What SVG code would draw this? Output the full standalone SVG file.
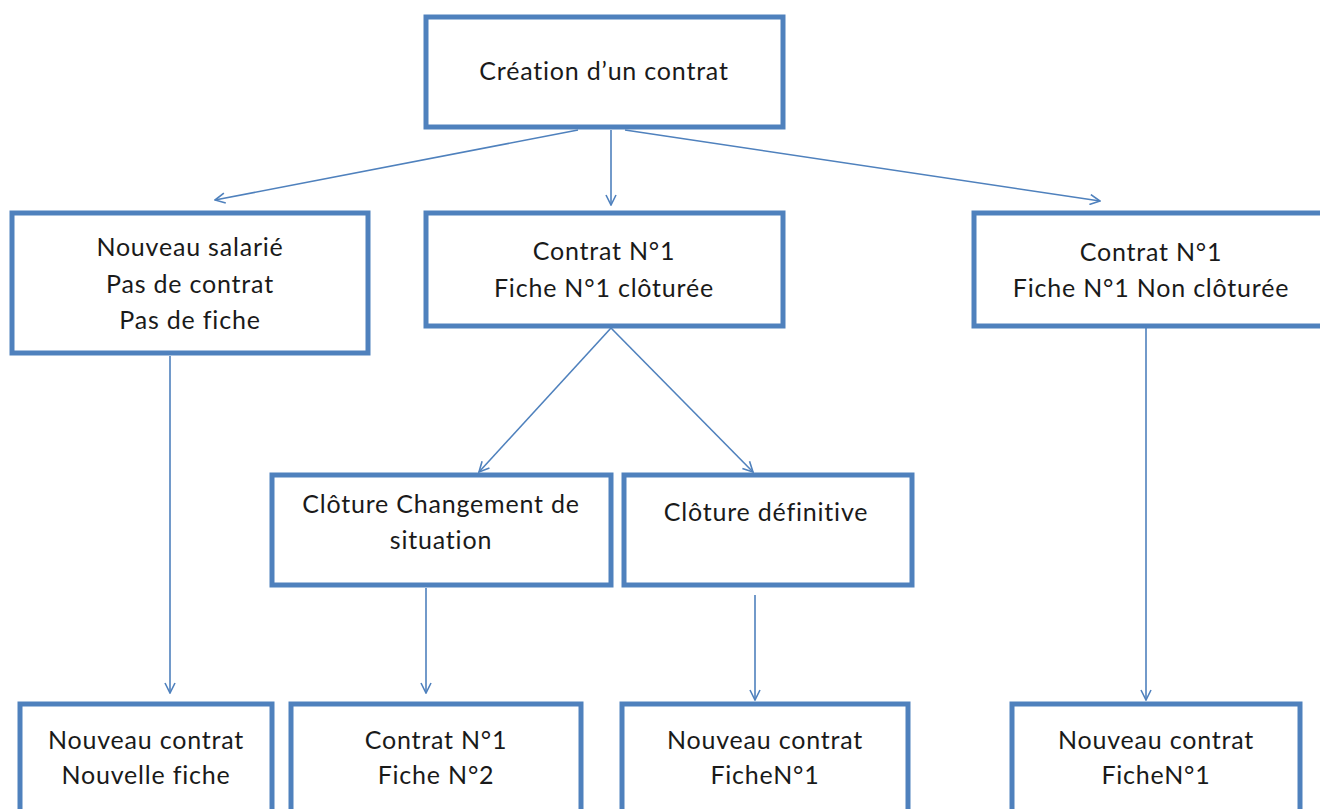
<svg xmlns="http://www.w3.org/2000/svg" width="1320" height="809" viewBox="0 0 1320 809">
<style>
.box{fill:#fff;stroke:#4f81bd;stroke-width:5}
.t{font-family:Lato,"Liberation Sans",sans-serif;font-size:25px;letter-spacing:0.8px;fill:#1a1a1a;text-anchor:middle}
.c{stroke:#4f81bd;stroke-width:1.6;fill:none}
</style>
<defs>
<marker id="ah" viewBox="0 0 12 12" refX="11" refY="6" markerWidth="12" markerHeight="12" markerUnits="userSpaceOnUse" orient="auto">
<path d="M1,1 L11,6 L1,11" fill="none" stroke="#4f81bd" stroke-width="1.6"/>
</marker>
</defs>
<rect width="1320" height="809" fill="#fff"/>
<g id="connectors">
<line class="c" x1="578" y1="130" x2="215" y2="200" marker-end="url(#ah)"/>
<line class="c" x1="611" y1="130" x2="611" y2="205" marker-end="url(#ah)"/>
<line class="c" x1="625" y1="130" x2="1100" y2="201" marker-end="url(#ah)"/>
<line class="c" x1="170" y1="356" x2="170" y2="693" marker-end="url(#ah)"/>
<line class="c" x1="611" y1="328" x2="479" y2="472" marker-end="url(#ah)"/>
<line class="c" x1="611" y1="328" x2="753" y2="472" marker-end="url(#ah)"/>
<line class="c" x1="426" y1="588" x2="426" y2="693" marker-end="url(#ah)"/>
<line class="c" x1="755" y1="595" x2="755" y2="700" marker-end="url(#ah)"/>
<line class="c" x1="1146" y1="328" x2="1146" y2="700" marker-end="url(#ah)"/>
</g>
<g id="n-creation"><rect class="box" x="426" y="17" width="357" height="110"/><text class="t" x="604" y="80">Création d’un contrat</text></g>
<g id="n-nouveau-salarie"><rect class="box" x="12" y="213" width="356" height="140"/><text class="t" x="190" y="256">Nouveau salarié</text><text class="t" x="190" y="293">Pas de contrat</text><text class="t" x="190" y="329">Pas de fiche</text></g>
<g id="n-cloturee"><rect class="box" x="426" y="213" width="357" height="113"/><text class="t" x="604" y="260">Contrat N°1</text><text class="t" x="604" y="297">Fiche N°1 clôturée</text></g>
<g id="n-non-cloturee"><rect class="box" x="974" y="213" width="356" height="113"/><text class="t" x="1151" y="261">Contrat N°1</text><text class="t" x="1151" y="297">Fiche N°1 Non clôturée</text></g>
<g id="n-changement"><rect class="box" x="272" y="475" width="339" height="110"/><text class="t" x="441" y="513">Clôture Changement de</text><text class="t" x="441" y="549">situation</text></g>
<g id="n-definitive"><rect class="box" x="624" y="475" width="288" height="110"/><text class="t" x="766" y="521">Clôture définitive</text></g>
<g id="n-b1"><rect class="box" x="20" y="704" width="252" height="130"/><text class="t" x="146" y="749">Nouveau contrat</text><text class="t" x="146" y="784">Nouvelle fiche</text></g>
<g id="n-b2"><rect class="box" x="291" y="704" width="290" height="130"/><text class="t" x="436" y="749">Contrat N°1</text><text class="t" x="436" y="784">Fiche N°2</text></g>
<g id="n-b3"><rect class="box" x="622" y="704" width="286" height="130"/><text class="t" x="765" y="749">Nouveau contrat</text><text class="t" x="765" y="784">FicheN°1</text></g>
<g id="n-b4"><rect class="box" x="1012" y="704" width="288" height="130"/><text class="t" x="1156" y="749">Nouveau contrat</text><text class="t" x="1156" y="784">FicheN°1</text></g>
</svg>
